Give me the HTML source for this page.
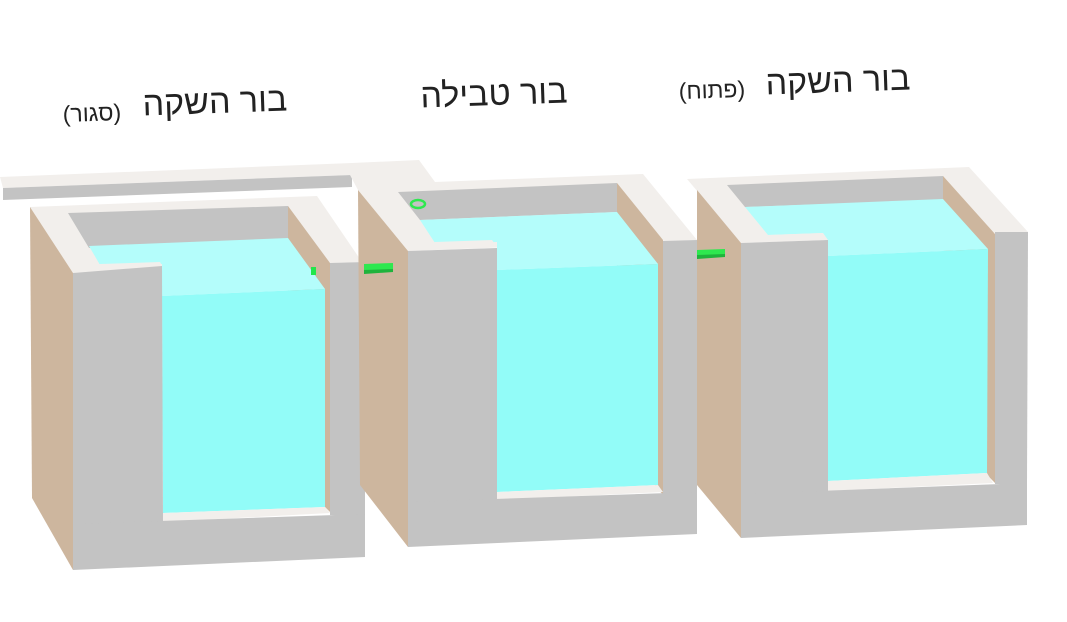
<!DOCTYPE html>
<html><head><meta charset="utf-8"><style>
html,body{margin:0;padding:0;background:#fff;width:1067px;height:622px;overflow:hidden}
svg{display:block}
text{font-family:"Liberation Sans","DejaVu Sans",sans-serif;fill:#222}
</style></head><body>
<svg width="1067" height="622" viewBox="0 0 1067 622" xmlns="http://www.w3.org/2000/svg">
<!-- labels -->
<text x="215" y="113" font-size="34" text-anchor="middle" direction="rtl" transform="rotate(-2 215 105)">בור השקה</text>
<text x="92" y="121" font-size="23" text-anchor="middle" direction="rtl" transform="rotate(-2 92 115)">(סגור)</text>
<text x="494" y="105" font-size="34" text-anchor="middle" direction="rtl" transform="rotate(-2 494 95)">בור טבילה</text>
<text x="838" y="92" font-size="34" text-anchor="middle" direction="rtl" transform="rotate(-2 838 82)">בור השקה</text>
<text x="712" y="98" font-size="23" text-anchor="middle" direction="rtl" transform="rotate(-2 712 92)">(פתוח)</text>

<!-- top bar -->
<polygon points="0,177 352,163 352,175 3,188" fill="#f2efec"/>
<polygon points="3,188 352,175 352,187 3,200" fill="#c3c3c3"/>

<!-- BOX 1 -->
<polygon points="30,207 317,196 362,262 73,273" fill="#f2efec"/>
<polygon points="68,213 288,206 288,240 89,248" fill="#c3c3c3"/>
<polygon points="288,206 330,263 330,512 288,470" fill="#cdb69e"/>
<polygon points="89,246 288,238 325,289 162,296 162,264 100,265" fill="#b4fdfb"/>
<polygon points="162,296 325,289 325,507 163,513" fill="#92fcf8"/>
<polygon points="163,513 325,507 330,513 163,522" fill="#f2efec"/>
<polygon points="73,273 100,264 160,262 162,266" fill="#f2efec"/>
<polygon points="73,273 162,266 163,524 73,526" fill="#c3c3c3"/>
<polygon points="330,263 365,262 365,515 330,515" fill="#c3c3c3"/>
<polygon points="73,524 365,514 365,557 73,570" fill="#c3c3c3"/>
<polygon points="30,207 73,273 73,570 32,498" fill="#cdb69e"/>
<rect x="311" y="267" width="5" height="8" fill="#22e64a"/>

<!-- BOX 2 -->
<polygon points="350,175 352,163 419,160 435,182 643,174 697,240 408,251 358,190" fill="#f2efec"/>
<polygon points="398,192 617,183 617,212 420,220" fill="#c3c3c3"/>
<polygon points="617,183 663,240 663,495 617,440" fill="#cdb69e"/>
<polygon points="420,220 617,212 658,264 497,270 497,242 435,243" fill="#b4fdfb"/>
<polygon points="497,270 658,264 658,485 497,492" fill="#92fcf8"/>
<polygon points="497,492 658,485 663,492 497,500" fill="#f2efec"/>
<polygon points="408,251 435,242 492,240 497,247" fill="#f2efec"/>
<polygon points="408,251 497,248 497,502 408,503" fill="#c3c3c3"/>
<polygon points="663,241 697,240 697,495 663,495" fill="#c3c3c3"/>
<polygon points="408,502 697,492 697,534 408,547" fill="#c3c3c3"/>
<polygon points="358,190 408,251 408,547 360,485" fill="#cdb69e"/>
<ellipse cx="418" cy="204" rx="7" ry="4" fill="none" stroke="#2ee84f" stroke-width="2.5"/>
<polygon points="364,264 393,263 393,271 364,273" fill="#2ee84f"/>
<polygon points="364,270 393,269 393,272 364,274" fill="#1fb33c"/>

<!-- BOX 3 -->
<polygon points="687,179 969,167 1028,232 741,243" fill="#f2efec"/>
<polygon points="727,185 943,176 943,200 745,207" fill="#c3c3c3"/>
<polygon points="943,176 995,234 995,483 943,430" fill="#cdb69e"/>
<polygon points="745,207 943,199 988,249 828,256 823,233 768,235" fill="#b4fdfb"/>
<polygon points="828,256 988,249 987,473 828,481" fill="#92fcf8"/>
<polygon points="828,481 987,473 993,483 828,491" fill="#f2efec"/>
<polygon points="741,243 768,235 823,233 828,240" fill="#f2efec"/>
<polygon points="741,243 828,240 828,494 741,495" fill="#c3c3c3"/>
<polygon points="995,232 1028,232 1027,484 995,484" fill="#c3c3c3"/>
<polygon points="740,494 1027,483 1027,525 741,538" fill="#c3c3c3"/>
<polygon points="697,190 741,243 741,538 697,485" fill="#cdb69e"/>
<polygon points="697,250 725,249 725,256 697,258" fill="#2ee84f"/>
<polygon points="697,255 725,254 725,257 697,259" fill="#1fb33c"/>
</svg>
</body></html>
